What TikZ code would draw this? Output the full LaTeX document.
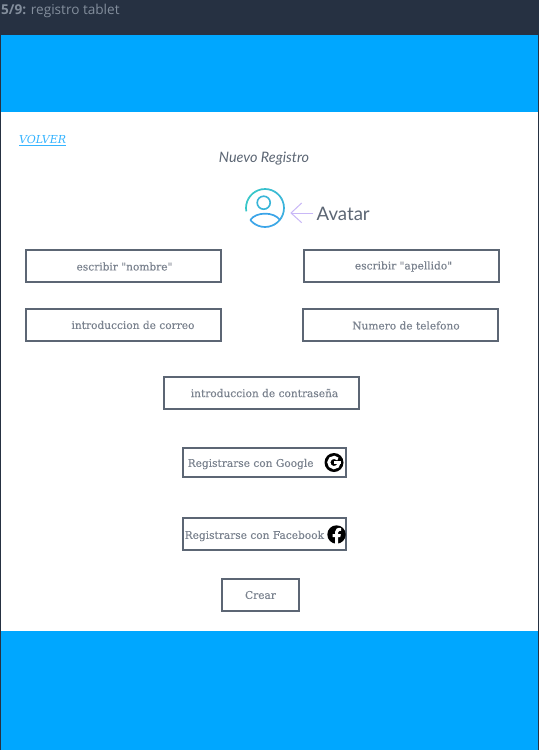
\documentclass[tikz,border=0pt]{standalone}
\usepackage{fontspec}
\setmainfont{DejaVu Serif}
\newfontfamily\lato{Lato}
\newfontfamily\head{Open Sans}
\newfontfamily\plainserif[FakeBold=0.2]{DejaVu Serif}
\definecolor{darkbg}{HTML}{263142}
\definecolor{band}{HTML}{00A7FF}
\definecolor{boxline}{HTML}{5C6674}
\definecolor{boxtext}{HTML}{7A828E}
\definecolor{headtext}{HTML}{838E9C}
\definecolor{linkc}{HTML}{35B4FF}
\definecolor{arrowc}{HTML}{C9B8F7}
\definecolor{tealA}{HTML}{35C6C8}
\definecolor{blueA}{HTML}{3AA4E8}
\tikzset{
  x=1pt,y=-1pt,
  fieldbox/.style={draw=boxline,line width=2pt,fill=white,minimum height=32pt,inner sep=0pt,outer sep=0pt},
  fieldtext/.style={inner sep=0pt,text=boxtext,font=\plainserif\fontsize{10.6}{12}\selectfont}
}
\begin{document}
\begin{tikzpicture}
\useasboundingbox (0,0) rectangle (539,750);
\fill[darkbg] (0,0) rectangle (539,750);
\fill[white] (1,112) rectangle (538,631);
\fill[band] (1,35) rectangle (538,112);
\fill[band] (1,631) rectangle (538,750);
\node[anchor=west,inner sep=0pt,text=headtext,font=\head\fontsize{13.6}{15}\selectfont] (title) at (1,10.5) {\textbf{5/9:} registro tablet};
\node[anchor=west,inner sep=0pt,text=linkc,font=\fontsize{11}{13}\selectfont\itshape] (volver) at (19,140.5) {\underline{VOLVER}};
\node[inner sep=0pt,text=boxline,font=\lato\fontsize{14.4}{16}\selectfont\itshape] (nuevo) at (264,159) {Nuevo Registro};
% avatar ring, coloured along its length
\foreach \a [evaluate=\a as \m using {max(0,min(100,(\a-230)/2))}] in {170,180,...,490}{
  \draw[blueA!\m!tealA,line width=1.7pt] ({265+19*cos(\a)},{208+19*sin(\a)}) arc[start angle=\a,end angle=\a+10.6,radius=19];
}
\draw[tealA!50!blueA,line width=1.6pt] (263.7,202.7) circle[radius=6.5];
\draw[blueA,line width=1.7pt,line join=round] (250.3,220) .. controls (256,211.5) and (274,211.5) .. (280,220);
\node[inner sep=0pt,anchor=west,text=boxline,font=\lato\fontsize{18.6}{20}\selectfont] (avatar) at (316.5,214) {Avatar};
\coordinate (arrowtip) at (291,213);
\coordinate (arrowtail) at (313,213);
\draw[arrowc,line width=1pt] (arrowtail) -- (arrowtip);
\draw[arrowc,line width=1pt] (301.7,203) -- (arrowtip) -- (301.7,222.7);
% fields
\node[fieldbox,minimum width=195pt] (nombre) at (123.5,266) {};
\node[fieldtext] at (124.5,266.5) {escribir "nombre"};
\node[fieldbox,minimum width=195pt] (apellido) at (401.5,266) {};
\node[fieldtext] at (403.5,266.5) {escribir "apellido"};
\node[fieldbox,minimum width=195pt] (correo) at (123.5,325) {};
\node[fieldtext] at (133,325) {introduccion de correo};
\node[fieldbox,minimum width=195pt] (telefono) at (400.5,325) {};
\node[fieldtext] at (406,325.5) {Numero de telefono};
\node[fieldbox,minimum width=195pt] (pass) at (261.5,393) {};
\node[fieldtext] at (264.5,393) {introduccion de contraseña};
\node[fieldbox,minimum width=163pt,minimum height=29pt] (google) at (264.5,462.5) {};
\node[fieldtext,anchor=west] (googlet) at (187.5,464) {Registrarse con Google};
\node[fieldbox,minimum width=163pt] (facebook) at (264.5,534) {};
\node[fieldtext,anchor=west] (facebookt) at (184.5,536) {Registrarse con Facebook};
\node[fieldbox,minimum width=77pt] (crear) at (260.5,595) {};
\node[fieldtext] at (260.5,595) {Crear};
% icons
\fill[black] (334,462.5) circle[radius=9.5];
\draw[white,line width=3pt] ({334+5.2*cos(42)},{462.5-5.2*sin(42)}) arc[start angle=-42,end angle=-360,radius=5.2];
\fill[white] (333.5,461) rectangle (340.7,464);
\fill[black] (336.5,534.5) circle[radius=9.2];
\fill[white] (335.2,544) -- (335.2,537) -- (332.7,537) -- (332.7,534) -- (335.2,534) -- (335.2,531.5)
  .. controls (335.2,528.8) and (337,527.5) .. (341,528) -- (341,530.8) -- (339.6,530.8) .. controls (338.3,530.8) and (338,531.3) .. (338,532.3)
  -- (338,534) -- (340.8,534) -- (340.3,537) -- (338,537) -- (338,544) -- cycle;
\end{tikzpicture}
\end{document}
